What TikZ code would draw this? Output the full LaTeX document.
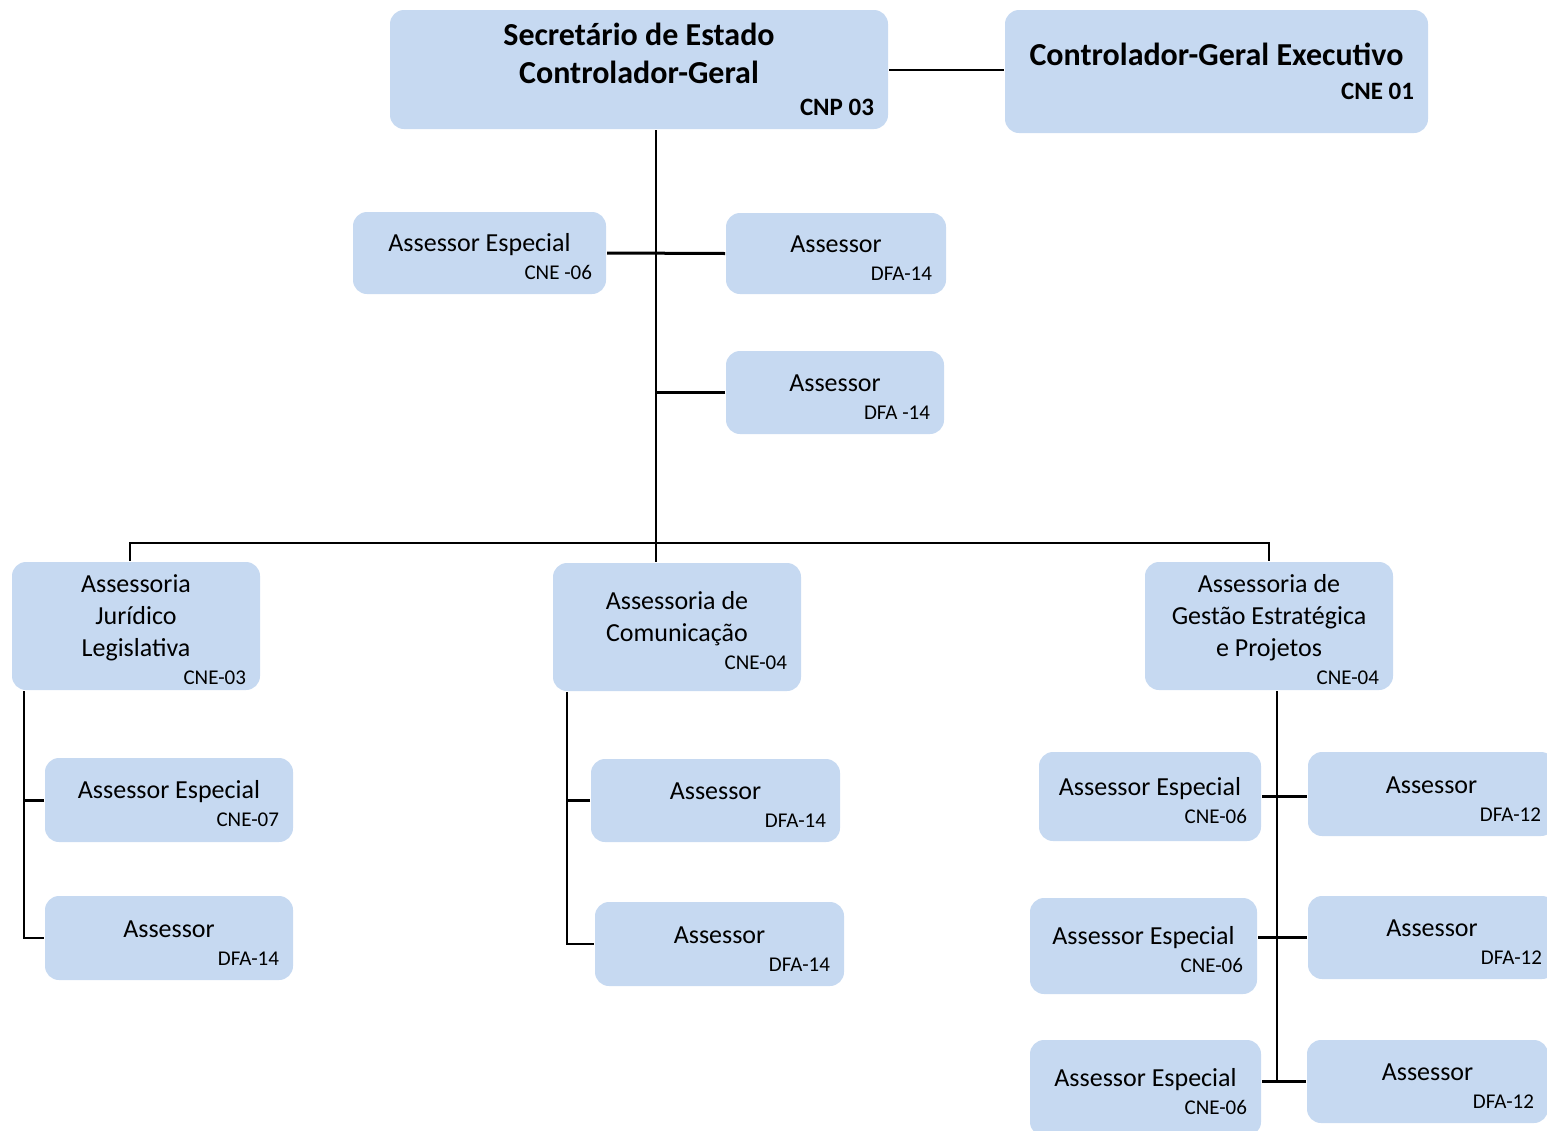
\documentclass[tikz,border=0pt]{standalone}
\usepackage{fontspec}
\setmainfont{Carlito}
\usepackage{tikz}
\definecolor{azul}{RGB}{198,217,241}
\newcommand{\cod}[2][-2pt]{\\[#1]\hspace*{0pt plus 1filll}{\fontsize{10.5}{12}\selectfont #2}}

\begin{document}
\begin{tikzpicture}[x=0.5pt,y=-0.5pt,line width=1pt]
\tikzstyle{base}=[fill=azul,rounded corners=7pt,align=flush center,inner xsep=7pt,inner ysep=0pt]
\tikzstyle{caixa}=[base,font=\fontsize{13}{16}\selectfont,execute at begin node=\rule{0pt}{13pt}]
\tikzstyle{chefe}=[base,font=\bfseries\fontsize{16}{19}\selectfont]
\tikzstyle{ramo}=[line width=1.5pt]
\useasboundingbox (0,0) rectangle (1547,1130);
\clip (0,0) rectangle (1547,1130);

% topo
\node[chefe,text width=235pt,minimum height=59.5pt] (sec) at (639,69.5)
  {Secretário de Estado\\Controlador-Geral\\[-3pt]\hspace*{0pt plus 1filll}{\fontsize{12.5}{14}\selectfont CNP 03}};
\node[chefe,text width=197.5pt,minimum height=61.5pt] (cge) at (1216.5,71.5)
  {Controlador-Geral Executivo\\[-2pt]\hspace*{0pt plus 1filll}{\fontsize{12.5}{14}\selectfont CNE 01}};

\node[caixa,text width=112.5pt,minimum height=41pt] (ae1) at (479.5,253) {Assessor Especial\cod{CNE -06}};
\node[caixa,text width=96pt,minimum height=40.5pt] (a1) at (836,253.5) {Assessor\cod{DFA-14}};
\node[caixa,text width=95pt,minimum height=41.5pt] (a2) at (835,392.5) {Assessor\cod{DFA -14}};

% assessorias
\node[caixa,text width=110pt,minimum height=64pt] (ajl) at (136,626) {Assessoria\\Jurídico\\Legislativa\cod{CNE-03}};
\node[caixa,text width=110pt,minimum height=64pt] (ac) at (677,627) {Assessoria de\\Comunicação\cod{CNE-04}};
\node[caixa,text width=110pt,minimum height=64pt] (agep) at (1269,626) {Assessoria de\\Gestão Estratégica\\e Projetos\cod{CNE-04}};

\node[caixa,text width=110pt,minimum height=42pt] (la1) at (169,800) {Assessor Especial\cod{CNE-07}};
\node[caixa,text width=110pt,minimum height=42pt] (la2) at (169,938) {Assessor\cod{DFA-14}};

\node[caixa,text width=110.5pt,minimum height=41.5pt] (ma1) at (715.5,800.5) {Assessor\cod{DFA-14}};
\node[caixa,text width=110.5pt,minimum height=42pt] (ma2) at (719.5,944) {Assessor\cod{DFA-14}};

\node[caixa,text width=97pt,minimum height=44.5pt] (re1) at (1150,796.5) {Assessor Especial\cod{CNE-06}};
\node[caixa,text width=99.5pt,minimum height=48pt] (re2) at (1143.5,946) {Assessor Especial\cod{CNE-06}};
\node[caixa,text width=101.5pt,minimum height=48pt] (re3) at (1145.5,1088) {Assessor Especial\cod{CNE-06}};
\node[caixa,text width=109.5pt,minimum height=42pt] (ra1) at (1431.5,794) {Assessor\cod{DFA-12}};
\node[caixa,text width=110pt,minimum height=41.5pt] (ra2) at (1432,937.5) {Assessor\cod{DFA-12}};
\node[caixa,text width=106.5pt,minimum height=41.5pt] (ra3) at (1427.5,1081.5) {Assessor\cod{DFA-12}};

% ligacoes
\coordinate (t) at (656,543);
\coordinate (b) at (130,543);
\coordinate (l) at (24,0);
\coordinate (m) at (567,0);
\coordinate (r) at (1277,0);

\draw (sec.east) -- (sec.east -| cge.west);
\draw (sec.south -| t) -- (t);
\draw[ramo] (ae1.east) -- (a1.west);
\draw[ramo] (a2.west) -- (a2.west -| t);
\draw (ajl.north -| b) |- (t) -| (agep.north);
\draw (t) -- (t |- ac.north);

\draw (l |- ajl.south) |- (la2.west);
\draw[ramo] (la1.west) -- (la1.west -| l);
\draw (m |- ac.south) |- (ma2.west);
\draw[ramo] (ma1.west) -- (ma1.west -| m);

\draw (r |- agep.south) -- (r |- ra3.west);
\draw[ramo] (re1.east) -- (re1.east -| ra1.west);
\draw[ramo] (ra2.west) -- (ra2.west -| re2.east);
\draw[ramo] (ra3.west) -- (ra3.west -| re3.east);
\end{tikzpicture}
\end{document}
